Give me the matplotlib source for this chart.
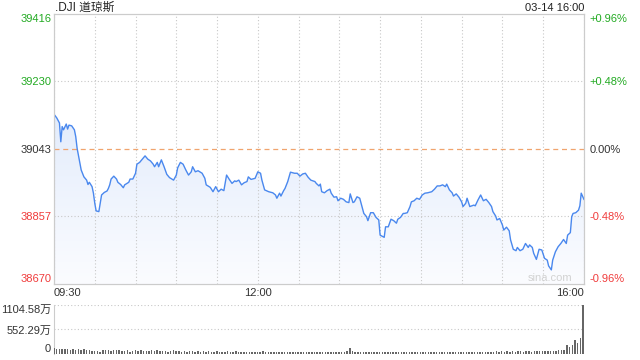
import numpy as np
import matplotlib.pyplot as plt
from matplotlib.colors import LinearSegmentedColormap
from matplotlib.ticker import MultipleLocator

plt.rcParams['font.family'] = ['Liberation Sans', 'Noto Sans CJK SC', 'DejaVu Sans']

# minutes after 09:30 and index level
minutes = [0, 2, 4, 5, 6, 7, 9, 10, 11, 13, 15, 16, 17, 19, 20, 22, 24, 25, 26, 28,
           29, 30, 31, 33, 34, 35, 37, 39, 40, 41, 42, 44, 46, 47, 49, 51, 52, 55, 56, 58,
           60, 61, 63, 65, 67, 69, 71, 73, 74, 76, 77, 79, 81, 83, 85, 88, 90, 91, 93, 95,
           97, 99, 101, 102, 104, 106, 109, 111, 112, 115, 117, 119, 121, 123, 125, 127, 129, 131, 133, 134,
           136, 138, 140, 142, 143, 145, 148, 150, 152, 153, 155, 158, 161, 163, 164, 166, 167, 169, 170, 172,
           174, 177, 179, 181, 183, 185, 187, 189, 192, 193, 195, 196, 197, 199, 201, 203, 204, 206, 208, 209,
           211, 213, 215, 217, 218, 220, 221, 223, 225, 226, 228, 230, 231, 233, 235, 237, 239, 240, 242, 243,
           244, 246, 248, 250, 252, 253, 255, 257, 258, 260, 262, 263, 265, 267, 269, 271, 273, 275, 278, 280,
           282, 284, 286, 288, 289, 291, 293, 294, 296, 298, 300, 301, 303, 304, 306, 309, 310, 312, 314, 316,
           318, 320, 322, 323, 325, 326, 328, 330, 331, 333, 335, 336, 338, 340, 341, 343, 345, 347, 349, 350,
           352, 353, 355, 357, 359, 361, 363, 364, 366, 367, 369, 371, 373, 375, 377, 378, 380, 381, 382, 384,
           386, 387, 388, 390]
prices = [39139, 39129, 39115, 39063, 39105, 39096, 39112, 39098, 39109, 39107, 39096, 39077, 39045, 39004, 38985, 38966, 38957, 38945, 38951, 38939,
          38921, 38893, 38872, 38870, 38893, 38916, 38923, 38927, 38934, 38944, 38960, 38968, 38960, 38951, 38945, 38936, 38944, 38951, 38960, 38960,
          38976, 39001, 39006, 39015, 39024, 39015, 39010, 39001, 38994, 39006, 38994, 39013, 38994, 38973, 38964, 38957, 38971, 38991, 39006, 39001,
          38985, 38971, 38980, 38994, 38980, 38983, 38976, 38962, 38944, 38937, 38925, 38939, 38925, 38932, 38928, 38971, 38959, 38948, 38955, 38953,
          38957, 38944, 38950, 38953, 38966, 38959, 38962, 38980, 38976, 38957, 38930, 38925, 38922, 38916, 38907, 38921, 38913, 38928, 38934, 38953,
          38979, 38976, 38976, 38968, 38974, 38976, 38965, 38957, 38953, 38948, 38941, 38946, 38925, 38922, 38928, 38932, 38921, 38910, 38911, 38900,
          38907, 38904, 38897, 38895, 38919, 38895, 38897, 38911, 38907, 38893, 38865, 38856, 38845, 38867, 38867, 38854, 38847, 38805, 38801, 38799,
          38828, 38828, 38849, 38845, 38838, 38849, 38854, 38865, 38865, 38867, 38884, 38897, 38900, 38907, 38904, 38916, 38921, 38922, 38925, 38932,
          38941, 38941, 38944, 38939, 38946, 38930, 38922, 38913, 38919, 38910, 38897, 38884, 38893, 38907, 38884, 38888, 38886, 38902, 38916, 38900,
          38904, 38895, 38884, 38870, 38858, 38847, 38851, 38833, 38819, 38827, 38817, 38792, 38766, 38762, 38771, 38762, 38766, 38782, 38771, 38778,
          38771, 38755, 38738, 38766, 38764, 38741, 38736, 38720, 38709, 38736, 38759, 38773, 38782, 38793, 38782, 38805, 38812, 38856, 38865, 38867,
          38874, 38886, 38921, 38904]

# volume bars every 2 minutes, in 万
vol_minutes = list(range(0, 391, 2))
volume = [125, 118, 120, 105, 122, 110, 95, 112, 100, 108, 96, 102, 88, 92, 70, 60, 75, 55, 80, 90,
          85, 78, 88, 80, 82, 70, 66, 90, 55, 72, 80, 68, 85, 62, 75, 58, 82, 70, 88, 60,
          64, 78, 52, 70, 86, 60, 74, 55, 66, 48, 62, 72, 50, 58, 45, 60, 52, 68, 44, 56,
          62, 48, 55, 40, 58, 52, 46, 60, 42, 54, 50, 38, 56, 44, 52, 40, 48, 58, 42, 50,
          46, 55, 40, 50, 44, 38, 52, 42, 48, 36, 45, 40, 50, 38, 44, 36, 42, 48, 35, 40,
          38, 44, 36, 42, 34, 40, 48, 36, 75, 128, 68, 42, 38, 45, 36, 40, 34, 42, 38, 44,
          36, 40, 34, 38, 42, 35, 40, 36, 44, 38, 34, 40, 36, 42, 35, 38, 44, 36, 40, 34,
          38, 42, 36, 40, 34, 44, 38, 36, 42, 35, 40, 38, 44, 36, 42, 38, 40, 45, 38, 50,
          42, 55, 48, 62, 45, 68, 52, 58, 48, 62, 55, 60, 66, 52, 58, 64, 55, 62, 58, 66,
          60, 68, 62, 72, 66, 75, 80, 95, 100, 200, 165, 210, 315, 255, 353, 1104.58]

prev_close = 39043
y_ticks = [38670, 38857, 39043, 39230, 39416]
pct_labels = ['-0.96%', '-0.48%', '0.00%', '+0.48%', '+0.96%']
tick_colors = ['#f03c3c', '#f03c3c', '#333333', '#22aa22', '#22aa22']
x_ticks = [0, 150, 390]
x_labels = ['09:30', '12:00', '16:00']
vol_ticks = [0, 552.29, 1104.58]
vol_labels = ['0', '552.29万', '1104.58万']

fig = plt.figure(figsize=(6.4, 3.6), dpi=100)
ax = fig.add_axes([0.0844, 0.2111, 0.828, 0.75])
vax = fig.add_axes([0.0844, 0.0167, 0.828, 0.1361])

# gradient fill under the line
cmap = LinearSegmentedColormap.from_list('fill', ['#fbfcff', '#d5e3fa'])
grad = np.linspace(1, 0, 256).reshape(-1, 1)
im = ax.imshow(grad, extent=[0, 390, 38670, 39416], aspect='auto', cmap=cmap,
               origin='upper', zorder=1)
poly = ax.fill_between(minutes, prices, 38670, color='none')
im.set_clip_path(poly.get_paths()[0], transform=ax.transData)
ax.plot(minutes, prices, color='#4a88ee', lw=1.0, zorder=3)

ax.set_xlim(0, 390)
ax.set_ylim(38670, 39416)
ax.axhline(prev_close, color='#f0a46e', lw=0.9, ls=(0, (4, 3)), zorder=2)
for v in [38857, 39230]:
    ax.axhline(v, color='#c8c8c8', lw=0.8, ls=(0, (1, 2)), zorder=2)
ax.xaxis.set_minor_locator(MultipleLocator(30))
ax.grid(which='both', axis='x', color='#c8c8c8', lw=0.8, ls=(0, (1, 2)))
ax.set_axisbelow(False)

ax.set_xticks(x_ticks, x_labels)
ax.set_yticks(y_ticks, [str(v) for v in y_ticks])
ax.tick_params(axis='both', which='both', length=0, labelsize=8)
ax.tick_params(axis='y', pad=2)
ax.tick_params(axis='x', pad=3, labelcolor='#333333')
xl = ax.get_xticklabels()
xl[0].set_ha('left')
xl[-1].set_ha('right')
for lab, c in zip(ax.get_yticklabels(), tick_colors):
    lab.set_color(c)
yl = ax.get_yticklabels()
yl[0].set_va('bottom')
yl[-1].set_va('top')

twin = ax.twinx()
twin.set_ylim(38670, 39416)
twin.set_yticks(y_ticks, pct_labels)
twin.tick_params(axis='y', length=0, labelsize=8, pad=4)
for lab, c in zip(twin.get_yticklabels(), tick_colors):
    lab.set_color(c)
tl = twin.get_yticklabels()
tl[0].set_va('bottom')
tl[-1].set_va('top')

for a in (ax, twin):
    for s in a.spines.values():
        s.set_color('#cccccc')

ax.text(0.979, 0.005, 'sina.com', transform=ax.transAxes, ha='right', va='bottom',
        color='#d2d2d2', fontsize=8)

fig.text(55 / 640, 1 - 8 / 360, '.DJI 道琼斯', ha='left', va='center', fontsize=8.5, color='#222222')
fig.text(584 / 640, 1 - 8 / 360, '03-14 16:00', ha='right', va='center', fontsize=8, color='#222222')

# volume panel
vax.bar(vol_minutes, volume, width=1.1, color='#666666', zorder=3)
vax.set_xlim(0, 390.6)
vax.set_ylim(0, 1104.58)
vax.set_xticks([])
vax.set_yticks(vol_ticks, vol_labels)
vax.tick_params(axis='y', length=0, labelsize=8, pad=2, labelcolor='#333333')
vl = vax.get_yticklabels()
vl[0].set_va('bottom')
vl[-1].set_va('top')
vax.grid(axis='y', color='#c8c8c8', lw=0.8, ls=(0, (1, 2)))
for k in ['top', 'right', 'bottom']:
    vax.spines[k].set_visible(False)
vax.spines['left'].set_color('#cccccc')

fig.savefig('out.png', dpi=100)
